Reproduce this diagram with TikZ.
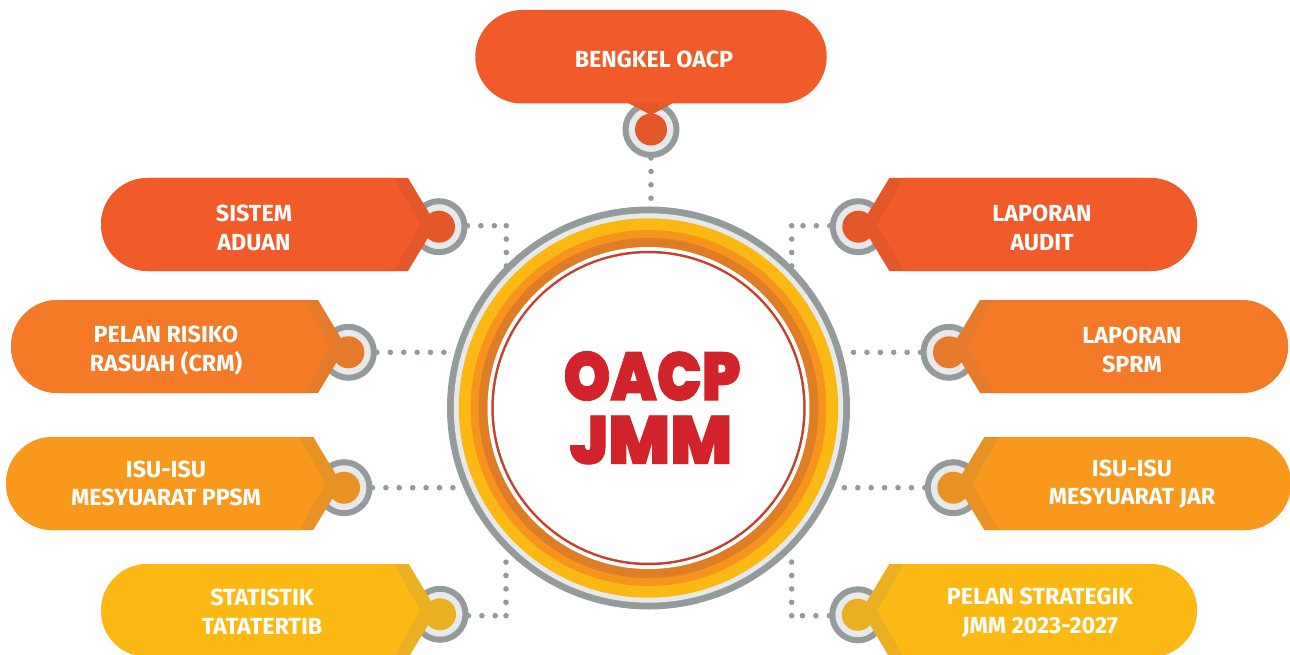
\documentclass[tikz,border=0pt]{standalone}
\usepackage{fontspec}
\setmainfont{Fira Sans}[UprightFont=* Bold]
\newfontfamily\heavyfont{Poppins}[UprightFont=* Black,FakeBold=1.2]
\definecolor{cA}{HTML}{F15A29}\definecolor{dA}{HTML}{E35728}
\definecolor{cB}{HTML}{F47A27}\definecolor{dB}{HTML}{E47A2A}
\definecolor{cC}{HTML}{F8991D}\definecolor{dC}{HTML}{E89223}
\definecolor{cD}{HTML}{FDB913}\definecolor{dD}{HTML}{EBB022}
\definecolor{rimgray}{HTML}{959B9C}\definecolor{rimlight}{HTML}{E7E9EA}
\definecolor{bandor}{HTML}{F7941E}\definecolor{banddk}{HTML}{DF7D26}
\definecolor{thinred}{HTML}{C4402F}\definecolor{logored}{HTML}{D2232A}
\tikzset{
 x=1pt,y=-1pt,
 dotline/.style={rimgray,line width=5.6pt,line cap=round,dash pattern=on 0pt off 13.4pt},
 label/.style={text=white,font=\fontsize{23.3}{28.5}\selectfont,align=center,inner sep=0pt},
 logotext/.style={text=logored,inner sep=0pt,font=\heavyfont\fontsize{68}{68}\selectfont},
 port/.style={circle,draw=rimgray,line width=6pt,fill=rimlight,minimum size=51pt,inner sep=0pt,outer sep=3pt},
 hubdisc/.style={circle,minimum size=#1,inner sep=0pt,outer sep=0pt},
}
% \portnode{name}{x}{y}{colour}
\newcommand{\portnode}[4]{\node[port] (#1) at (#2,#3) {};\fill[#4] (#1.center) circle (16);}
% pills: {x0}{ytop}{outer}{inner}{main}{dark}
\newcommand{\leftpill}[6]{%
 \fill[#6] (#3,#2) -- (#3+28,#2+46.5) -- (#3,#2+93) -- (#1+46.5,#2+93) arc[start angle=90,end angle=270,radius=46.5] -- cycle;
 \fill[#5] (#4,#2) -- (#4+26,#2+46.5) -- (#4,#2+93) -- (#1+46.5,#2+93) arc[start angle=90,end angle=270,radius=46.5] -- cycle;}
\newcommand{\rightpill}[6]{%
 \fill[#6] (#3,#2) -- (#3-28,#2+46.5) -- (#3,#2+93) -- (#1-46.5,#2+93) arc[start angle=90,end angle=-90,radius=46.5] -- cycle;
 \fill[#5] (#4,#2) -- (#4-27,#2+46.5) -- (#4,#2+93) -- (#1-46.5,#2+93) arc[start angle=90,end angle=-90,radius=46.5] -- cycle;}
\begin{document}
\begin{tikzpicture}
\useasboundingbox (0,0) rectangle (1290,655);
\clip (0,0) rectangle (1290,655);
% hub
\node[hubdisc=403pt,fill=rimgray] (hub) at (648.5,408) {};
\fill[rimlight] (hub.center) circle (194.7);
\fill[cD] (hub.center) circle (189.7);
\fill[bandor] (hub.center) circle (178);
\fill[banddk] (hub.center) circle (170);
\fill[white] (hub.center) circle (161);
\fill[thinred] (hub.center) circle (157.2);
\fill[white] (hub.center) circle (154.7);
\node[logotext,xscale=.88] (t1) at (652,376) {OACP};
\node[logotext,xscale=.96] (t2) at (651,440) {JMM};
% ports
\portnode{pTop}{651}{129.5}{dA}
\portnode{pL1}{439}{226.7}{dA}
\portnode{pL2}{348.4}{352.3}{dB}
\portnode{pL3}{344}{487.7}{dC}
\portnode{pL4}{440}{614.3}{dD}
\portnode{pR1}{858.3}{226.7}{dA}
\portnode{pR2}{949}{352.3}{dB}
\portnode{pR3}{953.3}{487.7}{dC}
\portnode{pR4}{857.8}{614.8}{dD}
% connector ends
\coordinate (eTop) at (651,205);
\coordinate (cL1) at (506.3,225.7); \coordinate (eL1) at (506.3,267);
\coordinate (cR1) at (791.7,225.7); \coordinate (eR1) at (791.7,267);
\coordinate (cL4) at (506,615.7);   \coordinate (eL4) at (506,560);
\coordinate (cR4) at (791.7,615.7); \coordinate (eR4) at (791.7,560);
\coordinate (eL2) at (445,352.3); \coordinate (eR2) at (853,352.3);
\coordinate (eL3) at (456.5,487.7);   \coordinate (eR3) at (841.8,487.7);
\draw[dotline] (pTop.south) -- (eTop);
\draw[dotline,shorten >=6pt] (pL1.east|-cL1) -- (cL1); \draw[dotline] (cL1) -- (eL1);
\draw[dotline,shorten >=6pt] (pR1.west|-cR1) -- (cR1); \draw[dotline] (cR1) -- (eR1);
\draw[dotline,shorten >=6pt] (pL4.east|-cL4) -- (cL4); \draw[dotline] (cL4) -- (eL4);
\draw[dotline,shorten >=6pt] (pR4.west|-cR4) -- (cR4); \draw[dotline] (cR4) -- (eR4);
\draw[dotline] (pL2.east) -- (eL2);
\draw[dotline] (pR2.west) -- (eR2);
\draw[dotline] (pL3.east) -- (eL3);
\draw[dotline] (pR3.west) -- (eR3);
% pills
\fill[dA] (628,103) -- (651,115) -- (673,103) -- cycle;
\fill[cA] (522,10) -- (780,10) arc[start angle=-90,end angle=90,radius=46.75] -- (522,103.5) arc[start angle=90,end angle=270,radius=46.75] -- cycle;
\leftpill{101}{178}{408}{394}{cA}{dA}
\leftpill{11}{300}{318}{304}{cB}{dB}
\leftpill{6}{437}{313.3}{299.3}{cC}{dC}
\leftpill{101}{564}{408.7}{394}{cD}{dD}
\rightpill{1197}{178}{889.3}{904}{cA}{dA}
\rightpill{1288}{300}{980}{994}{cB}{dB}
\rightpill{1291}{437}{984.3}{999}{cC}{dC}
\rightpill{1197}{564}{889.3}{904}{cD}{dD}
% labels
\node[label] (lTop) at (654,59.5) {BENGKEL OACP};
\node[label] (lL1) at (254,228) {SISTEM\\ADUAN};
\node[label] (lL2) at (166,350.5) {PELAN RISIKO\\RASUAH (CRM)};
\node[label] (lL3) at (166,483.5) {ISU-ISU\\MESYUARAT PPSM};
\node[label] (lL4) at (262,611.5) {STATISTIK\\TATATERTIB};
\node[label] (lR1) at (1042,228) {LAPORAN\\AUDIT};
\node[label] (lR2) at (1132,350) {LAPORAN\\SPRM};
\node[label] (lR3) at (1132,484) {ISU-ISU\\MESYUARAT JAR};
\node[label] (lR4) at (1040,612.5) {PELAN STRATEGIK\\JMM 2023-2027};
\end{tikzpicture}
\end{document}
